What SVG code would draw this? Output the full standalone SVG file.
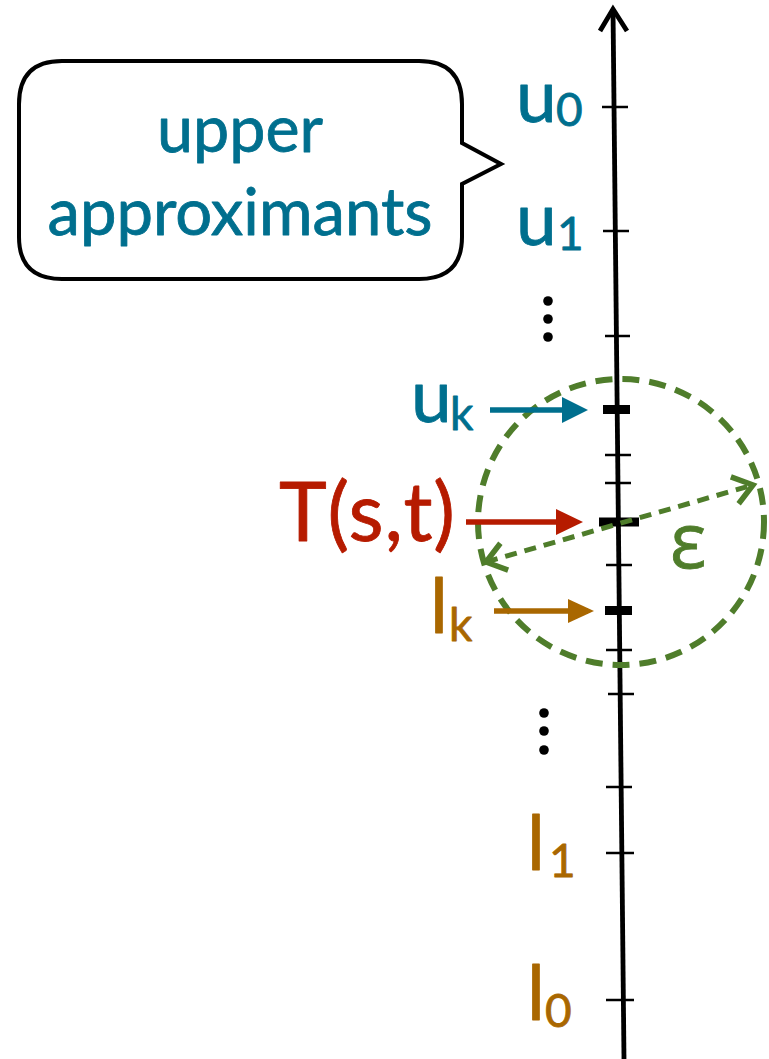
<svg xmlns="http://www.w3.org/2000/svg" width="769" height="1059" viewBox="0 0 769 1059">
  <style>
    .lbl { font-family: Lato, "Open Sans", "Liberation Sans", sans-serif; stroke-width: 0.8; stroke-linejoin: round; }
    .teal { fill: #006F8E; stroke: #006F8E; }
    .red { fill: #B61B00; stroke: #B61B00; }
    .ora { fill: #A96700; stroke: #A96700; }
    .grn { fill: #4F7D2B; stroke: #4F7D2B; stroke-width: 0.8; }
    .tick { stroke: #000; stroke-width: 2.5; }
    .thick { stroke: #000; stroke-width: 9; }
    .dot { fill: #000; }
  </style>
  <defs>
    <marker id="hTeal" markerUnits="userSpaceOnUse" markerWidth="30" markerHeight="30" refX="20" refY="13" orient="auto" overflow="visible">
      <path d="M0,0 L26,13 L0,26 z" fill="#006F8E"/>
    </marker>
    <marker id="hRed" markerUnits="userSpaceOnUse" markerWidth="30" markerHeight="30" refX="20" refY="13" orient="auto" overflow="visible">
      <path d="M0,0 L27,13 L0,26 z" fill="#B61B00"/>
    </marker>
    <marker id="hOra" markerUnits="userSpaceOnUse" markerWidth="30" markerHeight="30" refX="20" refY="12" orient="auto" overflow="visible">
      <path d="M0,0 L26,12 L0,24 z" fill="#A96700"/>
    </marker>
    <marker id="hGrn" markerUnits="userSpaceOnUse" markerWidth="30" markerHeight="30" refX="0" refY="0" orient="auto-start-reverse" overflow="visible">
      <path d="M-19,-14 L0,0 L-19,14" fill="none" stroke="#4F7D2B" stroke-width="5.5" stroke-linecap="butt"/>
    </marker>
  </defs>

  <!-- axis -->
  <g id="axis">
    <line x1="613" y1="9" x2="624" y2="1059" stroke="#000" stroke-width="4.8"/>
    <polyline points="600,31 613,9 627,31" fill="none" stroke="#000" stroke-width="4.8" stroke-linejoin="miter"/>
    <line class="tick" x1="602" y1="107" x2="628" y2="107"/>
    <line class="tick" x1="603" y1="231" x2="629" y2="231"/>
    <line class="tick" x1="605" y1="336" x2="630" y2="336"/>
    <line class="thick" x1="603" y1="409.5" x2="630" y2="409.5"/>
    <line class="tick" x1="605" y1="455" x2="631" y2="455"/>
    <line class="tick" x1="605" y1="483" x2="631" y2="483"/>
    <line class="thick" x1="599" y1="522" x2="639" y2="522"/>
    <line class="tick" x1="606" y1="565" x2="632" y2="565"/>
    <line class="thick" x1="605" y1="610.5" x2="632" y2="610.5"/>
    <line class="tick" x1="606" y1="650" x2="632" y2="650"/>
    <line class="tick" x1="608" y1="694" x2="634" y2="694"/>
    <line class="tick" x1="606" y1="787" x2="632" y2="787"/>
    <line class="tick" x1="606" y1="853" x2="634" y2="853"/>
    <line class="tick" x1="606" y1="1000" x2="634" y2="1000"/>
  </g>

  <!-- speech bubble -->
  <g id="bubble">
    <path d="M62,61 H419 Q462,61 462,104 V143 L501,164 L462,184 V237 Q462,279 419,279 H62 Q19,279 19,237 V104 Q19,61 62,61 Z" fill="#fff" stroke="#000" stroke-width="4" stroke-linejoin="miter"/>
    <text class="lbl teal" x="240" y="152" font-size="65" text-anchor="middle" textLength="166" lengthAdjust="spacingAndGlyphs">upper</text>
    <text class="lbl teal" x="240" y="235" font-size="65" text-anchor="middle" textLength="385" lengthAdjust="spacingAndGlyphs">approximants</text>
  </g>

  <!-- labels -->
  <g id="u0">
    <text class="lbl teal" x="516" y="122" font-size="73">u</text>
    <text class="lbl teal" x="556" y="126" font-size="46">0</text>
  </g>
  <g id="u1">
    <text class="lbl teal" x="516" y="245" font-size="73">u</text>
    <text class="lbl teal" x="557" y="250" font-size="46">1</text>
  </g>
  <g id="dots-top">
    <circle class="dot" cx="548" cy="301" r="4.8"/>
    <circle class="dot" cx="548" cy="319" r="4.8"/>
    <circle class="dot" cx="548" cy="337" r="4.8"/>
  </g>
  <g id="uk">
    <text class="lbl teal" x="411" y="422" font-size="73">u</text>
    <text class="lbl teal" x="450" y="430" font-size="46">k</text>
  </g>
  <g id="T">
    <text class="lbl red" x="279" y="541" font-size="81" textLength="176" lengthAdjust="spacing">T(s,t)</text>
  </g>
  <g id="lk">
    <text class="lbl ora" x="430" y="633" font-size="76">l</text>
    <text class="lbl ora" x="449" y="641" font-size="46">k</text>
  </g>
  <g id="dots-bottom">
    <circle class="dot" cx="544" cy="713" r="4.8"/>
    <circle class="dot" cx="544" cy="731" r="4.8"/>
    <circle class="dot" cx="544" cy="750" r="4.8"/>
  </g>
  <g id="l1">
    <text class="lbl ora" x="527" y="870" font-size="76">l</text>
    <text class="lbl ora" x="549" y="877" font-size="46">1</text>
  </g>
  <g id="l0">
    <text class="lbl ora" x="527" y="1020" font-size="76">l</text>
    <text class="lbl ora" x="545" y="1027" font-size="46">0</text>
  </g>

  <!-- epsilon ball -->
  <g id="ball">
    <circle cx="621" cy="522" r="143" fill="none" stroke="#4F7D2B" stroke-width="6" stroke-dasharray="17 10"/>
    <text x="670" y="568" font-size="76" font-family="'Open Sans', 'DejaVu Sans', sans-serif" class="grn">ε</text>
  </g>

  <!-- connectors -->
  <g id="connectors">
    <line x1="490" y1="410" x2="582" y2="410" stroke="#006F8E" stroke-width="5.5" marker-end="url(#hTeal)"/>
    <line x1="466" y1="522" x2="576" y2="522" stroke="#B61B00" stroke-width="5.5" marker-end="url(#hRed)"/>
    <line x1="494" y1="611" x2="588" y2="611" stroke="#A96700" stroke-width="5.5" marker-end="url(#hOra)"/>
    <line x1="486" y1="562" x2="753" y2="485" stroke="#4F7D2B" stroke-width="5" stroke-dasharray="12 8" marker-start="url(#hGrn)" marker-end="url(#hGrn)"/>
  </g>
</svg>
